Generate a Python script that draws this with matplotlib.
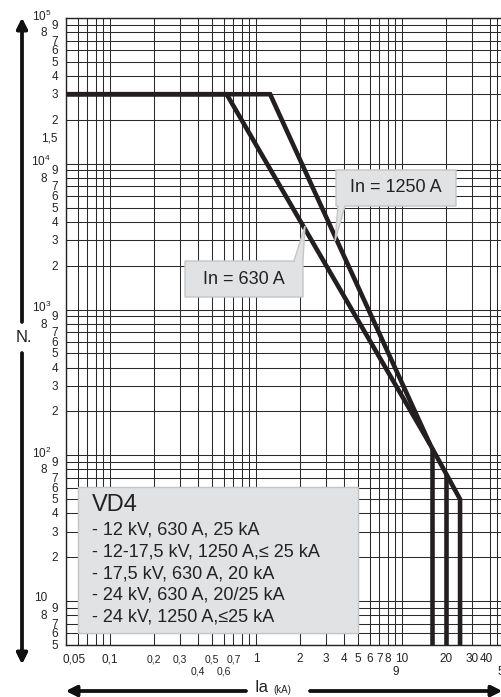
import matplotlib
matplotlib.use('Agg')
import matplotlib.pyplot as plt
from matplotlib.patches import Rectangle, Polygon
from matplotlib.transforms import Affine2D

plt.rcParams['font.family'] = ['Liberation Sans', 'DejaVu Sans']
plt.rcParams['mathtext.fontset'] = 'custom'
plt.rcParams['mathtext.rm'] = 'Liberation Sans'

# curves (Ia in kA, number of operations)
x_1250 = [0.05, 1.25, 15.5, 25, 25]
n_1250 = [30000, 30000, 120, 50, 5]
x_630 = [0.05, 0.63, 15.5]
n_630 = [30000, 30000, 120]
x_16 = [16, 16]
n_16 = [113, 5]
x_20 = [20, 20]
n_20 = [75, 5]

# grid values
x_grid = [0.05, 0.06, 0.07, 0.08, 0.09, 0.1, 0.2, 0.3, 0.4, 0.5, 0.6, 0.7, 0.8, 0.9,
          1, 2, 3, 4, 5, 6, 7, 8, 9, 10, 20, 30, 40, 45, 50]
y_grid = [5, 6, 7, 8, 9]
for k in [10, 100, 1000, 10000]:
    y_grid += [m * k for m in range(1, 10)]
y_grid.append(100000)

# x tick labels: value, text, row (0 upper, 1 lower), size
x_labels = [(0.05, '0,05', 0, 8.5), (0.1, '0,1', 0, 8.5), (0.2, '0,2', 0, 7.5),
            (0.3, '0,3', 0, 7.5), (0.4, '0,4', 1, 7.5), (0.5, '0,5', 0, 7.5),
            (0.6, '0,6', 1, 7.5), (0.7, '0,7', 0, 7.5), (1, '1', 0, 8.5),
            (2, '2', 0, 8.5), (3, '3', 0, 8.5), (4, '4', 0, 8.5), (5, '5', 0, 8.5),
            (6, '6', 0, 8.5), (7, '7', 0, 8.5), (8, '8', 0, 8.5), (9, '9', 1, 8.5),
            (10, '10', 0, 8.5), (20, '20', 0, 8.5), (30, '30', 0, 8.5),
            (40, '40', 0, 8.5), (50, '50', 1, 8.5)]

# y tick labels
y_major = [10, 100, 1000, 10000, 100000]
y_major_txt = ['10', '$10^2$', '$10^3$', '$10^4$', '$10^5$']
y_minor = [5, 6, 7, 8, 9]
for k in [10, 100, 1000, 10000]:
    y_minor += [m * k for m in range(2, 10)]
y_minor_txt = [str(int(v))[0] for v in y_minor]

legend_lines = ['- 12 kV, 630 A, 25 kA',
                '- 12-17,5 kV, 1250 A,\u2264 25 kA',
                '- 17,5 kV, 630 A, 20 kA',
                '- 24 kV, 630 A, 20/25 kA',
                '- 24 kV, 1250 A,\u226425 kA']

W, H = 502, 697
fig = plt.figure(figsize=(W / 100, H / 100), dpi=100)
ax = fig.add_axes([66 / W, 1 - 645 / H, (504 - 66) / W, (645 - 18) / H])
ax.set_xscale('log')
ax.set_yscale('log')
ax.set_xlim(0.05, 50)
ax.set_ylim(5, 100000)
ax.set_xticks([])
ax.set_yticks([])
ax.minorticks_off()
for s in ax.spines.values():
    s.set_linewidth(1.0)
    s.set_color('#222222')

for v in x_grid:
    ax.axvline(v, color='#2a2a2a', lw=0.75, zorder=1)
for v in y_grid:
    ax.axhline(v, color='#2a2a2a', lw=0.75, zorder=1)

curve_kw = dict(color='#231f20', lw=3.3, solid_capstyle='butt', solid_joinstyle='miter', zorder=4)
ax.plot(x_630, n_630, **curve_kw)
ax.plot(x_1250, n_1250, **curve_kw)
ax.plot(x_16, n_16, **curve_kw)
ax.plot(x_20, n_20, **curve_kw)

# pixel coordinate transform for annotations
px = Affine2D().scale(1 / W, -1 / H).translate(0, 1) + fig.transFigure

ytr = ax.get_yaxis_transform()
xtr = ax.get_xaxis_transform()
off = lambda dx, dy: Affine2D().translate(dx, dy)

for v, t in zip(y_major, y_major_txt):
    dx = -19 if t == '10' else -15
    dy = 3 if t == '10' else 2
    ax.text(0, v, t, transform=ytr + off(dx, dy), ha='right', va='center', fontsize=8.5, color='#222222')
for v, t in zip(y_minor, y_minor_txt):
    dx = -19 if t == '8' else -8
    ax.text(0, v, t, transform=ytr + off(dx, -1), ha='right', va='center', fontsize=8.5, color='#222222')
ax.text(0, 15000, '1,5', transform=ytr + off(-8, 0), ha='right', va='center', fontsize=8.5, color='#222222')

for v, t, row, fs in x_labels:
    dy = -14 if row == 0 else -27
    dx = 8 if t == '0,05' else (-4 if t == '40' else 0)
    ax.text(v, 0, t, transform=xtr + off(dx, dy), ha='center', va='center', fontsize=fs,
            color='#222222', clip_on=False)

# axis arrows
arr = dict(arrowstyle='-|>', lw=2.4, color='#111111', mutation_scale=16, shrinkA=0, shrinkB=0)
fig.add_artist(plt.annotate('', xy=(22, 18), xytext=(22, 322), xycoords=px, textcoords=px, arrowprops=arr))
fig.add_artist(plt.annotate('', xy=(22, 664), xytext=(22, 353), xycoords=px, textcoords=px, arrowprops=arr))
fig.add_artist(plt.annotate('', xy=(66, 691), xytext=(246, 691), xycoords=px, textcoords=px, arrowprops=arr))
fig.add_artist(plt.annotate('', xy=(502, 691), xytext=(310, 691), xycoords=px, textcoords=px, arrowprops=arr))
fig.text(24, 338, 'N.', transform=px, ha='center', va='center', fontsize=12, color='#222222')
fig.text(255, 688, 'Ia', transform=px, ha='left', va='center', fontsize=12, color='#222222')
fig.text(273, 690, '(kA)', transform=px, ha='left', va='center', fontsize=7, color='#222222')

# callouts
box_fc = '#e1e2e4'
box_ec = '#c4c5c7'
callout_1250 = [(336, 170), (456, 170), (456, 206), (345, 206), (335, 241), (338, 206), (336, 206)]
fig.add_artist(Polygon(callout_1250, closed=True, transform=px, fc=box_fc, ec=box_ec, lw=1.0, zorder=5))
fig.text(396, 188, 'In = 1250 A', transform=px, ha='center', va='center', fontsize=13, color='#222222', zorder=6)

callout_630 = [(185, 261), (294, 261), (305, 226), (303, 261), (303, 297), (185, 297)]
fig.add_artist(Polygon(callout_630, closed=True, transform=px, fc=box_fc, ec=box_ec, lw=1.0, zorder=5))
fig.text(244, 279, 'In = 630 A', transform=px, ha='center', va='center', fontsize=13, color='#222222', zorder=6)

fig.add_artist(Rectangle((78, 487), 280, 146, transform=px, fc=box_fc, ec=box_ec, lw=1.0, zorder=5))
fig.text(92, 505, 'VD4', transform=px, ha='left', va='center', fontsize=17, color='#222222', zorder=6)
for i, t in enumerate(legend_lines):
    fig.text(92, 530 + i * 21.8, t, transform=px, ha='left', va='center', fontsize=13,
             color='#222222', zorder=6)

fig.savefig('out.png', dpi=100)
